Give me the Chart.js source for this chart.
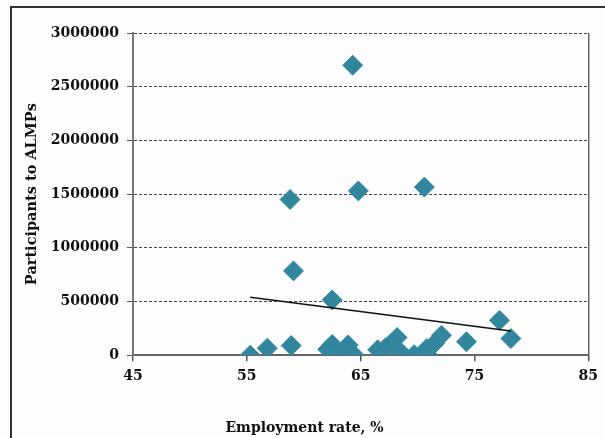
<!DOCTYPE html>
<html>
<head>
<meta charset="utf-8">
<script src="https://cdn.jsdelivr.net/npm/chart.js@4"></script>
<style>
  html, body { margin: 0; padding: 0; background: #fdfdfd; }
  #wrap { position: relative; width: 605px; height: 438px; overflow: hidden; }
  #frame {
    position: absolute; left: 10px; top: 6px; width: 620px; height: 460px;
    border-left: 2px solid #333; border-top: 2px solid #333; pointer-events: none;
  }
  canvas { position: absolute; left: 0; top: 0; }
</style>
</head>
<body>
<div id="wrap">
  <canvas id="chart" width="605" height="438"></canvas>
  <div id="frame"></div>
</div>
<script>
// Employment rate (%) and participants to ALMPs
const employmentRate = [55.3, 56.8, 58.9, 58.8, 59.1, 62.5, 62.1, 62.5, 63.2, 63.9, 64.3,
                        64.3, 64.8, 66.5, 67.2, 67.6, 68.2, 68.6, 69.7, 70.6, 70.9, 70.8,
                        71.5, 72.1, 74.3, 77.2, 78.2];
const participants = [0, 65000, 90000, 1450000, 785000, 515000, 55000, 100000, 10000, 95000, 15000,
                      2700000, 1530000, 50000, 70000, 100000, 165000, 20000, 5000, 1565000, 5000, 60000,
                      110000, 185000, 125000, 325000, 155000];

// linear trend line end points
const trendX = [55.3, 78.2];
const trendY = [540000, 225000];

const xTicks = [45, 55, 65, 75, 85];
const yTicks = [0, 500000, 1000000, 1500000, 2000000, 2500000, 3000000];

const points = employmentRate.map((x, i) => ({ x: x, y: participants[i] }));
const trend = trendX.map((x, i) => ({ x: x, y: trendY[i] }));

const tickFont = { family: 'DejaVu Serif', size: 14, weight: 'bold' };
const titleFont = { family: 'DejaVu Serif', size: 14, weight: 'bold' };

new Chart(document.getElementById('chart').getContext('2d'), {
    type: 'scatter',
    data: {
        datasets: [{
            label: 'Trend',
            type: 'line',
            data: trend,
            borderColor: '#111',
            borderWidth: 1.6,
            pointRadius: 0,
            fill: false,
            order: 0
        }, {
            label: 'Participants',
            data: points,
            pointStyle: 'rectRot',
            pointRadius: 10,
            pointBorderWidth: 1,
            backgroundColor: '#31859C',
            borderColor: '#3a8ea4',
            order: 1
        }]
    },
    options: {
        responsive: false,
        animation: false,
        layout: { padding: { left: 20, top: 33, right: 16, bottom: 0 } },
        plugins: {
            legend: { display: false },
            tooltip: { enabled: false },
            title: {
                display: true,
                position: 'bottom',
                text: 'Employment rate, %',
                color: '#111',
                font: titleFont,
                padding: { top: 0, bottom: 1 }
            }
        },
        scales: {
            x: {
                type: 'linear',
                min: 45,
                max: 85,
                afterBuildTicks: axis => { axis.ticks = xTicks.map(v => ({ value: v })); },
                afterFit: axis => { axis.height = 65; },
                ticks: { color: '#111', font: tickFont, padding: 7 },
                grid: {
                    color: ctx => (ctx.tick && ctx.tick.value === 85) ? '#666' : 'rgba(0,0,0,0)',
                    lineWidth: 1.5,
                    tickColor: '#555',
                    tickLength: 6,
                    tickBorderDash: []
                },
                border: { display: true, color: '#666', width: 2 }
            },
            y: {
                min: 0,
                max: 3000000,
                afterBuildTicks: axis => { axis.ticks = yTicks.map(v => ({ value: v })); },
                afterFit: axis => { axis.width = 113; },
                ticks: { color: '#111', font: tickFont, padding: 8, callback: v => String(v) },
                grid: {
                    color: '#444',
                    lineWidth: 1,
                    tickColor: '#555',
                    tickLength: 6,
                    tickBorderDash: []
                },
                border: { display: true, color: '#777', width: 2, dash: [3, 2] },
                title: {
                    display: true,
                    text: 'Participants to ALMPs',
                    color: '#111',
                    font: { family: 'DejaVu Serif', size: 14.5, weight: 'bold' },
                    padding: { top: 4, bottom: 0 }
                }
            }
        }
    }
});
</script>
</body>
</html>
